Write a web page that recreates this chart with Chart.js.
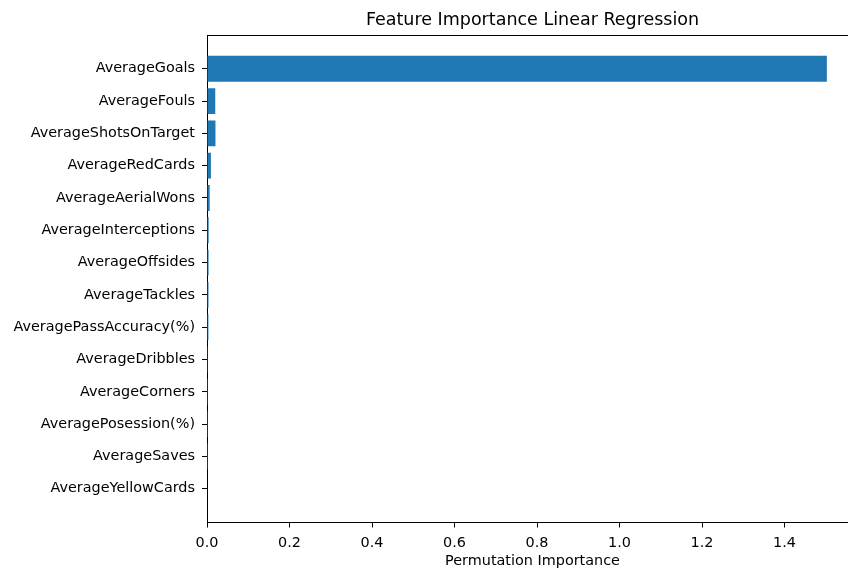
<!DOCTYPE html>
<html>
<head>
<meta charset="utf-8">
<script src="https://cdn.jsdelivr.net/npm/chart.js@4.4.1/dist/chart.umd.min.js"></script>
<style>
  html, body { margin: 0; padding: 0; background: #fff; overflow: hidden; }
  #wrap { width: 860px; height: 568px; position: relative; }
</style>
</head>
<body>
<div id="wrap"><canvas id="c"></canvas></div>
<script>
const features = [
  "AverageGoals", "AverageFouls", "AverageShotsOnTarget", "AverageRedCards",
  "AverageAerialWons", "AverageInterceptions", "AverageOffsides", "AverageTackles",
  "AveragePassAccuracy(%)", "AverageDribbles", "AverageCorners", "AveragePosession(%)",
  "AverageSaves", "AverageYellowCards"
];
const importance = [
  1.5025, 0.0200, 0.0205, 0.0095,
  0.0065, 0.0040, 0.0038, 0.0036,
  0.0034, 0.0003, 0.0002, 0.0001,
  0.0001, 0.0000
];
const xTicks = [0.0, 0.2, 0.4, 0.6, 0.8, 1.0, 1.2, 1.4];
const xMax = 1.578;

const FONT = "DejaVu Sans";
Chart.defaults.font.family = FONT;
Chart.defaults.color = "#000";

const points = features.map((f, i) => ({ x: importance[i], y: i }));

new Chart(document.getElementById("c"), {
  type: "bar",
  data: {
    datasets: [{
      data: points,
      backgroundColor: "#1f77b4",
      borderWidth: 0,
      categoryPercentage: 1.0,
      barPercentage: 0.8
    }]
  },
  options: {
    indexAxis: "y",
    responsive: true,
    maintainAspectRatio: false,
    animation: false,
    layout: { padding: { left: 0, right: 2, top: 0, bottom: 0 } },
    plugins: {
      legend: { display: false },
      tooltip: { enabled: false },
      title: {
        display: true,
        text: "Feature Importance Linear Regression",
        fullSize: false,
        color: "#000",
        font: { family: FONT, size: 17.5, weight: "normal" },
        padding: { top: 10, bottom: 4 }
      }
    },
    scales: {
      x: {
        type: "linear",
        position: "bottom",
        min: 0,
        max: xMax,
        afterBuildTicks: (s) => { s.ticks = xTicks.map(v => ({ value: v })); },
        afterFit: (s) => { s.height = 45.5; },
        ticks: {
          callback: (v) => Number(v).toFixed(1),
          font: { family: FONT, size: 14.4 },
          color: "#000",
          padding: 7,
          maxRotation: 0
        },
        grid: { drawOnChartArea: false, drawTicks: true, tickLength: 5, tickColor: "#000", tickWidth: 1 },
        border: { display: true, color: "#000", width: 1 },
        title: {
          display: true,
          text: "Permutation Importance",
          color: "#000",
          font: { family: FONT, size: 14.4 },
          padding: { top: 0, bottom: -2 }
        }
      },
      x2: {
        type: "linear",
        position: "top",
        min: 0,
        max: xMax,
        afterFit: (s) => { s.height = 0; },
        ticks: { display: false },
        grid: { drawOnChartArea: false, drawTicks: false },
        border: { display: true, color: "#000", width: 1 }
      },
      y: {
        type: "linear",
        position: "left",
        reverse: true,
        offset: false,
        min: -1.045,
        max: 14.045,
        afterBuildTicks: (s) => { s.ticks = features.map((_, i) => ({ value: i })); },
        afterFit: (s) => { s.width = 207; },
        ticks: {
          callback: (v) => features[v],
          font: { family: FONT, size: 14.4 },
          color: "#000",
          padding: 7,
          autoSkip: false
        },
        grid: { offset: false, drawOnChartArea: false, drawTicks: true, tickLength: 5, tickColor: "#000", tickWidth: 1 },
        border: { display: true, color: "#000", width: 1 }
      }
    }
  }
});
</script>
</body>
</html>
